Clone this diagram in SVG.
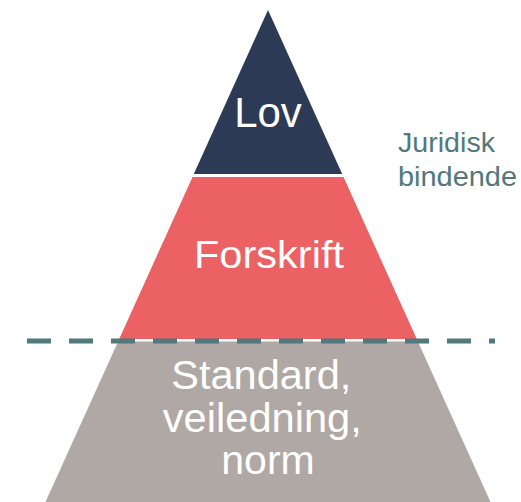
<svg xmlns="http://www.w3.org/2000/svg" width="521" height="502" viewBox="0 0 521 502">
<style>
.lbl{font-family:"Liberation Sans",Arial,sans-serif;fill:#ffffff;text-anchor:middle}
.side{font-family:"Liberation Sans",Arial,sans-serif;fill:#51797D;font-size:27px}
</style>
<rect width="521" height="502" fill="#ffffff"/>
<g id="lov">
<polygon points="268,10 342.2,174 193.8,174" fill="#2C3A56"/>
<text class="lbl" x="268" y="127" font-size="42">Lov</text>
</g>
<g id="forskrift">
<polygon points="192.5,177 343.5,177 416.8,339 119.2,339" fill="#EC6163"/>
<text class="lbl" x="269" y="268" font-size="39" textLength="150" lengthAdjust="spacingAndGlyphs">Forskrift</text>
</g>
<g id="standard">
<polygon points="118.1,341.5 417.9,341.5 490.5,502 45.5,502" fill="#B0A8A5"/>
<text class="lbl" font-size="41">
<tspan x="267" y="389" textLength="180" lengthAdjust="spacingAndGlyphs">Standard,</tspan>
<tspan x="268" y="432" textLength="199" lengthAdjust="spacingAndGlyphs">veiledning,</tspan>
<tspan x="268" y="474">norm</tspan>
</text>
</g>
<g id="juridisk">
<text class="side"><tspan x="398" y="152" textLength="97" lengthAdjust="spacingAndGlyphs">Juridisk</tspan><tspan x="398" y="186" textLength="119" lengthAdjust="spacingAndGlyphs">bindende</tspan></text>
</g>
<g id="connectors">
<line x1="27" y1="341" x2="495" y2="341" stroke="#51797D" stroke-width="5" stroke-dasharray="24 18"/>
</g>
</svg>
